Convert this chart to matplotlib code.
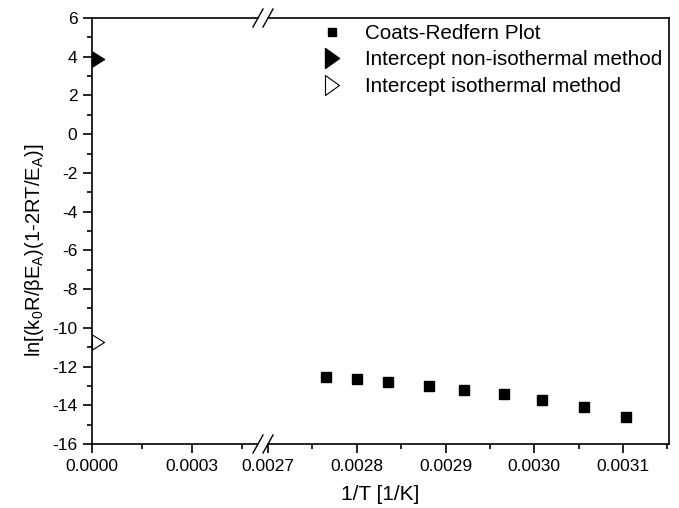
import numpy as np
import matplotlib.pyplot as plt
from matplotlib.path import Path
from matplotlib.lines import Line2D
from matplotlib.ticker import MultipleLocator, FormatStrFormatter

plt.rcParams['font.family'] = ['Liberation Sans', 'DejaVu Sans']
plt.rcParams['mathtext.fontset'] = 'custom'
plt.rcParams['mathtext.rm'] = 'Liberation Sans'

# Coats-Redfern points
inv_T = [0.002765, 0.0028007, 0.0028349, 0.0028818, 0.0029213,
         0.0029661, 0.0030092, 0.0030555, 0.0031033]
cr_y = [-12.53, -12.66, -12.80, -13.01, -13.21, -13.44, -13.75, -14.11, -14.61]

# intercepts at 1/T = 0
icpt_x = [0.0]
icpt_noniso = [3.87]
icpt_iso = [-10.72]

labels = ['Coats-Redfern Plot', 'Intercept non-isothermal method',
          'Intercept isothermal method']

W, H = 679, 508
fig = plt.figure(figsize=(W / 100, H / 100), dpi=100)

x0, xb1, xb2, x1 = 92, 258, 268, 669
yb, yt = 444, 18
bot = 1 - yb / H
hgt = (yb - yt) / H
ax1 = fig.add_axes([x0 / W, bot, (xb1 - x0) / W, hgt])
ax2 = fig.add_axes([xb2 / W, bot, (x1 - xb2) / W, hgt], sharey=ax1)

lw = 1.2
# marker with its flat side on the data point (as in the original)
half_tri = Path([(0, -0.625), (0, 0.625), (1, 0), (0, -0.625)],
                [Path.MOVETO, Path.LINETO, Path.LINETO, Path.CLOSEPOLY])
ax1.plot(icpt_x, icpt_noniso, ls='none', marker=half_tri, ms=17.3,
         mfc='black', mec='black', clip_on=False, zorder=5)
ax1.plot(icpt_x, icpt_iso, ls='none', marker=half_tri, ms=17.3,
         mfc='white', mec='black', mew=0.8, clip_on=False, zorder=5)
ax2.plot(inv_T, cr_y, ls='none', marker='s', ms=6.5, color='black')

ax1.set_xlim(0, 0.000498)
ax2.set_xlim(0.0027, 0.0031518)
ax1.set_ylim(-16, 6)

for ax in (ax1, ax2):
    for s in ax.spines.values():
        s.set_linewidth(lw)
    ax.tick_params(which='major', direction='out', length=6.5, width=lw,
                   labelsize=12.5, pad=4)
    ax.tick_params(which='minor', direction='out', length=3.5, width=lw)
    ax.xaxis.set_major_formatter(FormatStrFormatter('%.4f'))
    ax.tick_params(top=False, right=False, which='both')

ax1.spines['right'].set_visible(False)
ax2.spines['left'].set_visible(False)
ax2.tick_params(left=False, labelleft=False, which='both')

ax1.xaxis.set_major_locator(MultipleLocator(0.0003))
ax1.xaxis.set_minor_locator(MultipleLocator(0.00015))
ax2.xaxis.set_major_locator(MultipleLocator(0.0001))
ax2.xaxis.set_minor_locator(MultipleLocator(0.00005))
ax1.yaxis.set_major_locator(MultipleLocator(2))
ax1.yaxis.set_minor_locator(MultipleLocator(1))
ax1.yaxis.set_major_formatter(FormatStrFormatter('%d'))

# break marks
dx, dy = 5 / W, 9 / H
for xp in (xb1 / W, xb2 / W):
    for yp in (1 - yt / H, 1 - yb / H):
        fig.add_artist(Line2D([xp - dx, xp + dx], [yp - dy, yp + dy],
                              color='black', lw=1.0))

ax1.set_ylabel(r'ln[(k$\mathregular{_0}$R/βE$\mathregular{_A}$)(1-2RT/E$\mathregular{_A}$)]',
               fontsize=14.5)
ax1.yaxis.set_label_coords(-0.28, 0.455)
fig.text(380 / W, 1 - 494 / H, '1/T [1/K]', fontsize=15, ha='center', va='center')

# legend
leg_tri = Path([(-0.7, -1), (-0.7, 1), (0.7, 0), (-0.7, -1)],
               [Path.MOVETO, Path.LINETO, Path.LINETO, Path.CLOSEPOLY])
handles = [
    Line2D([], [], ls='none', marker='s', ms=5.5, color='black'),
    Line2D([], [], ls='none', marker=leg_tri, ms=14.4, mfc='black', mec='black'),
    Line2D([], [], ls='none', marker=leg_tri, ms=14.4, mfc='white', mec='black', mew=0.8),
]
fig.legend(handles, labels, loc='upper left', bbox_to_anchor=(320 / W, 1 - 24 / H),
           frameon=False, fontsize=14.85, handlelength=1.21, handletextpad=0.97,
           labelspacing=0.36, borderaxespad=0, borderpad=0)

fig.savefig('out.png', dpi=100)
